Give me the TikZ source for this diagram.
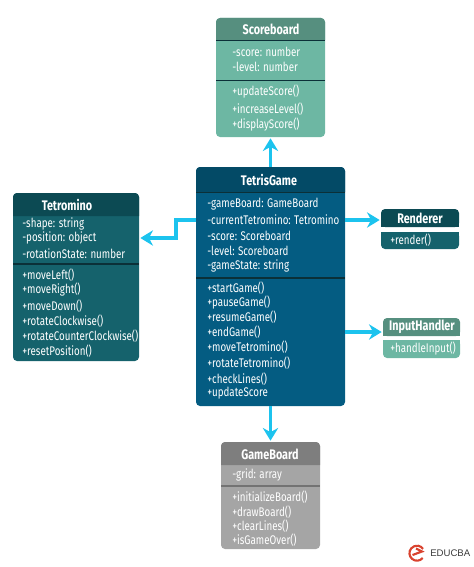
\documentclass[tikz,border=0pt]{standalone}
\usepackage{fontspec}
\setmainfont[FakeStretch=0.78]{Fira Sans}
\newfontfamily\logofont{Liberation Sans}
\usetikzlibrary{arrows.meta}
\definecolor{tealBody}{HTML}{6DB7A3}
\definecolor{tealHead}{HTML}{568F7F}
\definecolor{gameBody}{HTML}{045C82}
\definecolor{gameHead}{HTML}{034A66}
\definecolor{tetroBody}{HTML}{15626C}
\definecolor{tetroHead}{HTML}{0C4A53}
\definecolor{greyBody}{HTML}{A5A5A5}
\definecolor{greyHead}{HTML}{7E7E7E}
\definecolor{ruleDark}{HTML}{0B3038}
\definecolor{flowBlue}{HTML}{1CC3EE}
\definecolor{logoRed}{HTML}{D9432F}
\definecolor{logoGrey}{HTML}{3A3A3A}
\tikzset{
  classbox/.style={rectangle,rounded corners=3,inner sep=0pt,outer sep=0pt},
  title/.style={text=white,font=\fontsize{10.4}{11}\selectfont\bfseries,inner sep=0pt},
  member/.style={text=white,font=\fontsize{9.4}{11}\selectfont,anchor=west,inner sep=0pt},
  flow/.style={draw=flowBlue,line width=2.8,shorten >=1pt,-{Stealth[length=9.5,width=11.5]}},
}
\begin{document}
\begin{tikzpicture}[x=0.75pt,y=-0.75pt]
\useasboundingbox (0,0) rectangle (474,567);
% Scoreboard
\node[classbox,fill=tealBody,minimum width=81.75pt,minimum height=89.25pt] (scoreboard) at (270.5,77.5) {};
\fill[tealHead] (216,40) [rounded corners=3] -- (216,18) -- (325,18) [sharp corners] -- (325,40) -- cycle;
\draw[ruleDark,line width=0.6pt] (216,40) -- (325,40);
\draw[ruleDark,line width=0.6pt] (216,80) -- (325,80);
\node[title] (sbTitle) at (271,29) {Scoreboard};
\node[member] (sbScore) at (232,52) {-score: number};
\node[member] (sbLevel) at (232,67) {-level: number};
\node[member] (sbUpdate) at (232,92) {+updateScore()};
\node[member] (sbIncrease) at (232,109) {+increaseLevel()};
\node[member] (sbDisplay) at (232,125) {+displayScore()};
% TetrisGame
\node[classbox,fill=gameBody,minimum width=111.75pt,minimum height=179.25pt] (tetrisGame) at (270.5,286.5) {};
\fill[gameHead] (196,192) [rounded corners=3] -- (196,167) -- (345,167) [sharp corners] -- (345,192) -- cycle;
\draw[ruleDark,line width=0.6pt] (196,192) -- (345,192);
\draw[ruleDark,line width=0.8pt] (196,278) -- (345,278);
\node[title] (tgTitle) at (269,180) {TetrisGame};
\node[member] (tgBoard) at (207,204) {-gameBoard: GameBoard};
\node[member] (tgCurrent) at (207,220) {-currentTetromino: Tetromino};
\node[member] (tgScore) at (207,236) {-score: Scoreboard};
\node[member] (tgLevel) at (207,251) {-level: Scoreboard};
\node[member] (tgState) at (207,266) {-gameState: string};
\node[member] (tgStart) at (207,288) {+startGame()};
\node[member] (tgPause) at (207,303) {+pauseGame()};
\node[member] (tgResume) at (207,317) {+resumeGame()};
\node[member] (tgEnd) at (207,332) {+endGame()};
\node[member] (tgMove) at (207,347) {+moveTetromino()};
\node[member] (tgRotate) at (207,363) {+rotateTetromino()};
\node[member] (tgCheck) at (207,379) {+checkLines()};
\node[member] (tgUpdate) at (207,393) {+updateScore};
% Tetromino
\node[classbox,fill=tetroBody,minimum width=94.5pt,minimum height=126pt] (tetromino) at (76,277) {};
\fill[tetroHead] (13,216) [rounded corners=3] -- (13,193) -- (139,193) [sharp corners] -- (139,216) -- cycle;
\draw[ruleDark,line width=0.8pt] (13,264) -- (139,264);
\node[title] (tmTitle) at (67,205) {Tetromino};
\node[member] (tmShape) at (22,224) {-shape: string};
\node[member] (tmPosition) at (22,238) {-position: object};
\node[member] (tmState) at (22,254) {-rotationState: number};
\node[member] (tmLeft) at (22,275) {+moveLeft()};
\node[member] (tmRight) at (22,290) {+moveRight()};
\node[member] (tmDown) at (22,306) {+moveDown()};
\node[member] (tmClock) at (22,321) {+rotateClockwise()};
\node[member] (tmCounter) at (22,336) {+rotateCounterClockwise()};
\node[member] (tmReset) at (22,351) {+resetPosition()};
% Renderer
\node[classbox,fill=tetroHead,minimum width=58.5pt,minimum height=13.5pt] (renderer) at (420,218) {};
\node[classbox,fill=tetroBody,minimum width=58.5pt,minimum height=12.75pt] (rendererBody) at (420,240.5) {};
\fill[tetroHead] (381,222) rectangle (459,227);
\fill[tetroBody] (381,232) rectangle (459,236);
\node[title] (rdTitle) at (420,218) {Renderer};
\node[member] (rdRender) at (390,240) {+render()};
% InputHandler
\node[classbox,fill=tealHead,minimum width=57.75pt,minimum height=13.5pt] (inputHandler) at (421.5,327) {};
\node[classbox,fill=tealBody,minimum width=57.75pt,minimum height=13.5pt] (inputBody) at (421.5,349) {};
\fill[tealHead] (383,331) rectangle (460,336);
\fill[tealBody] (383,340) rectangle (460,345);
\node[title] (ihTitle) at (422,327) {InputHandler};
\node[member] (ihInput) at (390,349) {+handleInput()};
% GameBoard
\node[classbox,fill=greyBody,minimum width=74.25pt,minimum height=80.25pt] (gameBoard) at (270.5,495.5) {};
\fill[greyHead] (221,465) [rounded corners=3] -- (221,442) -- (320,442) [sharp corners] -- (320,465) -- cycle;
\draw[black!55,line width=0.8pt] (221,486) -- (320,486);
\node[title] (gbTitle) at (270,454) {GameBoard};
\node[member] (gbGrid) at (232,475) {-grid: array};
\node[member] (gbInit) at (232,497) {+initializeBoard()};
\node[member] (gbDraw) at (232,512) {+drawBoard()};
\node[member] (gbClear) at (232,526) {+clearLines()};
\node[member] (gbOver) at (232,540) {+isGameOver()};
% connectors
\draw[flow] (tetrisGame.north) -- (scoreboard.south);
\draw[flow] (tetrisGame.south) -- (gameBoard.north);
\draw[flow] (tetrisGame.west |- tgCurrent) -- ++(-20,0) |- (tetromino.east |- tmPosition);
\draw[flow] (tetrisGame.east |- tgCurrent) -- (renderer.west |- tgCurrent);
\draw[flow] (tetrisGame.east |- tgEnd) -- (inputHandler.west |- tgEnd);
% logo
\draw[logoRed,line width=1.6pt] (422.7,558) arc[start angle=40,end angle=325,radius=7.5];
\draw[logoRed,line width=1.6pt] (412.5,555) -- (422,551.5) -- (416,548.5);
\node[text=logoGrey,font=\logofont\fontsize{7.2}{9}\selectfont,anchor=west,inner sep=0pt] (logoText) at (430,553) {EDUCBA};
\end{tikzpicture}
\end{document}
